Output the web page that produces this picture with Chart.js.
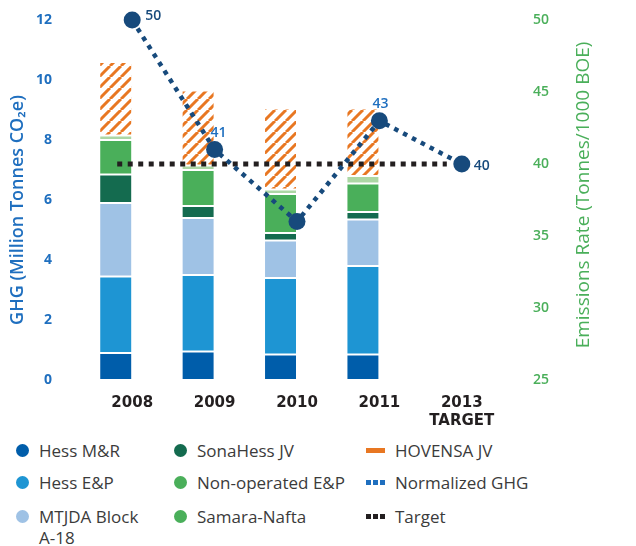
<!DOCTYPE html>
<html>
<head>
<meta charset="utf-8">
<script src="https://cdn.jsdelivr.net/npm/chart.js@4.4.0/dist/chart.umd.min.js"></script>
<style>
  body { margin: 0; background: #fff; font-family: "Open Sans", sans-serif; }
  #wrap { position: relative; width: 636px; height: 546px; }
  #chart { position: absolute; left: 0; top: 0; }
  .item { position: absolute; font-size: 17px; color: #3b3b3b; line-height: 21px; }
  .item span.w { white-space: nowrap; }
  .dot { position: absolute; left: -23px; top: 4px; width: 13px; height: 13px; border-radius: 50%; }
  .bar { position: absolute; left: -29px; top: 8px; width: 19px; height: 5px; }
  .sq { position: absolute; top: 8px; width: 5px; height: 5px; }
</style>
</head>
<body>
<div id="wrap">
  <canvas id="chart" width="636" height="430"></canvas>
  <div id="legend"></div>
</div>
<script>
const categories = ['2008', '2009', '2010', '2011', ['2013', 'TARGET']];

// GHG, million tonnes CO2e
const hessMR = [0.9, 0.95, 0.85, 0.85, null];
const hessEP = [2.55, 2.55, 2.55, 2.95, null];
const mtjda = [2.45, 1.9, 1.25, 1.55, null];
const sonaHess = [0.95, 0.4, 0.25, 0.25, null];
const nonOperated = [1.15, 1.2, 1.3, 0.95, null];
const samaraNafta = [0.15, 0.15, 0.15, 0.25, null];
const hovensa = [2.45, 2.5, 2.7, 2.25, null];

// emissions rate, tonnes / 1000 BOE
const normalizedGHG = [50, 41, 36, 43, 40];
const targetRate = 40;

const seriesNames = ['Hess M&R', 'Hess E&P', 'MTJDA Block A-18', 'SonaHess JV',
  'Non-operated E&P', 'Samara-Nafta', 'HOVENSA JV', 'Normalized GHG', 'Target'];

const FONT = '"Open Sans", sans-serif';
const NUMFONT = '"DejaVu Sans", sans-serif';
const barShare = 0.8;

function hatch(color) {
  const s = 11;
  const c = document.createElement('canvas');
  c.width = s; c.height = s;
  const g = c.getContext('2d');
  g.fillStyle = '#fff';
  g.fillRect(0, 0, s, s);
  g.strokeStyle = color;
  g.lineWidth = 3;
  g.beginPath();
  for (const k of [-s, 0, s]) {
    g.moveTo(k, s);
    g.lineTo(k + s, 0);
  }
  g.stroke();
  return document.getElementById('chart').getContext('2d').createPattern(c, 'repeat');
}

function barSet(label, data, color) {
  return {
    type: 'bar', label: label, data: data, backgroundColor: color,
    borderColor: '#fff', borderWidth: 1, borderSkipped: false,
    categoryPercentage: barShare, barPercentage: 1,
    stack: 'ghg', order: 3, yAxisID: 'y', xAxisID: 'x'
  };
}

// big tick paddings would otherwise also pad the chart area top
function fitSide(width) {
  return s => { s.width = width; s.paddingTop = 8; s.paddingBottom = 8; };
}

const last = categories.length - 1;
const targetData = [{x: -barShare / 2, y: targetRate}, {x: last, y: targetRate}];

const decor = {
  id: 'decor',
  afterDatasetsDraw(chart) {
    const ctx = chart.ctx;
    const pts = chart.getDatasetMeta(7).data;
    const spots = [
      {dx: 13, dy: -4, align: 'left', color: '#174a7c'},
      {dx: 4, dy: -17, align: 'center', color: '#1f6fbf'},
      {dx: 11, dy: 2, align: 'left', color: '#ffffff'},
      {dx: 1, dy: -17, align: 'center', color: '#1f6fbf'},
      {dx: 12, dy: 2, align: 'left', color: '#174a7c'}
    ];
    ctx.save();
    ctx.font = '600 14px ' + FONT;
    ctx.textBaseline = 'middle';
    pts.forEach((p, i) => {
      ctx.fillStyle = spots[i].color;
      ctx.textAlign = spots[i].align;
      ctx.fillText(String(normalizedGHG[i]), p.x + spots[i].dx, p.y + spots[i].dy);
    });
    ctx.restore();
  },
  afterDraw(chart) {
    const ctx = chart.ctx;
    const a = chart.chartArea;
    const mid = (a.top + a.bottom) / 2;
    ctx.save();
    ctx.textAlign = 'center';
    ctx.textBaseline = 'middle';
    ctx.translate(18, mid + 10);
    ctx.rotate(-Math.PI / 2);
    ctx.font = '600 18px ' + FONT;
    ctx.fillStyle = '#1f6fbf';
    ctx.fillText('GHG (Million Tonnes CO\u2082e)', 0, 0);
    ctx.restore();
    ctx.save();
    ctx.textAlign = 'center';
    ctx.textBaseline = 'middle';
    ctx.translate(chart.width - 52, mid - 5);
    ctx.rotate(-Math.PI / 2);
    ctx.font = '19px ' + FONT;
    ctx.fillStyle = '#4aaf5a';
    ctx.fillText('Emissions Rate (Tonnes/1000 BOE)', 0, 0);
    ctx.restore();
  }
};

new Chart(document.getElementById('chart'), {
  type: 'bar',
  data: {
    labels: categories,
    datasets: [
      barSet(seriesNames[0], hessMR, '#005daa'),
      barSet(seriesNames[1], hessEP, '#1e95d3'),
      barSet(seriesNames[2], mtjda, '#9fc2e5'),
      barSet(seriesNames[3], sonaHess, '#146b4f'),
      barSet(seriesNames[4], nonOperated, '#4aaf5a'),
      barSet(seriesNames[5], samaraNafta, '#acd7a4'),
      barSet(seriesNames[6], hovensa, hatch('#e87722')),
      {
        type: 'line', label: seriesNames[7], data: normalizedGHG,
        yAxisID: 'y2', xAxisID: 'x', order: 1, clip: false,
        borderColor: '#174a7c', borderWidth: 4.5, borderDash: [4.5, 5.5],
        pointRadius: 8.5, pointBackgroundColor: '#174a7c', pointBorderWidth: 0,
        tension: 0, fill: false
      },
      {
        type: 'line', label: seriesNames[8], data: targetData,
        yAxisID: 'y2', xAxisID: 'xT', order: 2, clip: false,
        borderColor: '#231f20', borderWidth: 5, borderDash: [5, 5.5],
        pointRadius: 0, fill: false
      }
    ]
  },
  options: {
    responsive: false,
    devicePixelRatio: 1,
    animation: false,
    layout: { autoPadding: false, padding: { top: 20, left: 0, right: 0, bottom: 0 } },
    plugins: { legend: { display: false }, tooltip: { enabled: false } },
    scales: {
      x: {
        type: 'category', stacked: true,
        grid: { display: false, drawTicks: false }, border: { display: false },
        ticks: { color: '#231f20', font: { family: NUMFONT, size: 15, weight: 'bold' },
          padding: 14, maxRotation: 0, autoSkip: false },
        afterFit: s => { s.height = 50; }
      },
      xT: { type: 'linear', display: false, min: -0.5, max: last + 0.5 },
      y: {
        stacked: true, min: 0, max: 12,
        ticks: { stepSize: 2, color: '#1f6fbf', font: { family: FONT, size: 14, weight: 'bold' }, padding: 39 },
        grid: { display: false, drawTicks: false }, border: { display: false },
        afterFit: fitSide(91)
      },
      y2: {
        position: 'right', min: 25, max: 50,
        ticks: { stepSize: 5, color: '#4aaf5a', font: { family: FONT, size: 14, weight: '600' }, padding: 30 },
        grid: { display: false, drawTicks: false }, border: { display: false },
        afterFit: fitSide(133)
      }
    }
  },
  plugins: [decor]
});

// legend, three columns
const legendItems = [
  {name: seriesNames[0], kind: 'dot', color: '#005daa', x: 39, y: 450},
  {name: seriesNames[1], kind: 'dot', color: '#1e95d3', x: 39, y: 482},
  {name: seriesNames[2], kind: 'dot', color: '#9fc2e5', x: 39, y: 516},
  {name: seriesNames[3], kind: 'dot', color: '#146b4f', x: 197, y: 450},
  {name: seriesNames[4], kind: 'dot', color: '#4aaf5a', x: 197, y: 482},
  {name: seriesNames[5], kind: 'dot', color: '#4aaf5a', x: 197, y: 516},
  {name: seriesNames[6], kind: 'bar', color: '#e87722', x: 395, y: 450},
  {name: seriesNames[7], kind: 'sq', color: '#1f6fbf', x: 395, y: 482},
  {name: seriesNames[8], kind: 'sq', color: '#231f20', x: 395, y: 516}
];
const legend = document.getElementById('legend');
legendItems.forEach(it => {
  const d = document.createElement('div');
  d.className = 'item';
  d.style.left = it.x + 'px';
  d.style.top = (it.y - 10.5) + 'px';
  d.style.width = it.x < 100 ? '130px' : '240px';
  let mark = '';
  if (it.kind === 'dot') mark = '<span class="dot" style="background:' + it.color + '"></span>';
  if (it.kind === 'bar') mark = '<span class="bar" style="background:' + it.color + '"></span>';
  if (it.kind === 'sq') {
    [-29, -22, -15].forEach(l => {
      mark += '<span class="sq" style="left:' + l + 'px;background:' + it.color + '"></span>';
    });
  }
  const words = it.name.replace('&', '&amp;').split(' ')
    .map(w => '<span class="w">' + w + '</span>').join(' ');
  d.innerHTML = mark + words;
  legend.appendChild(d);
});
</script>
</body>
</html>
